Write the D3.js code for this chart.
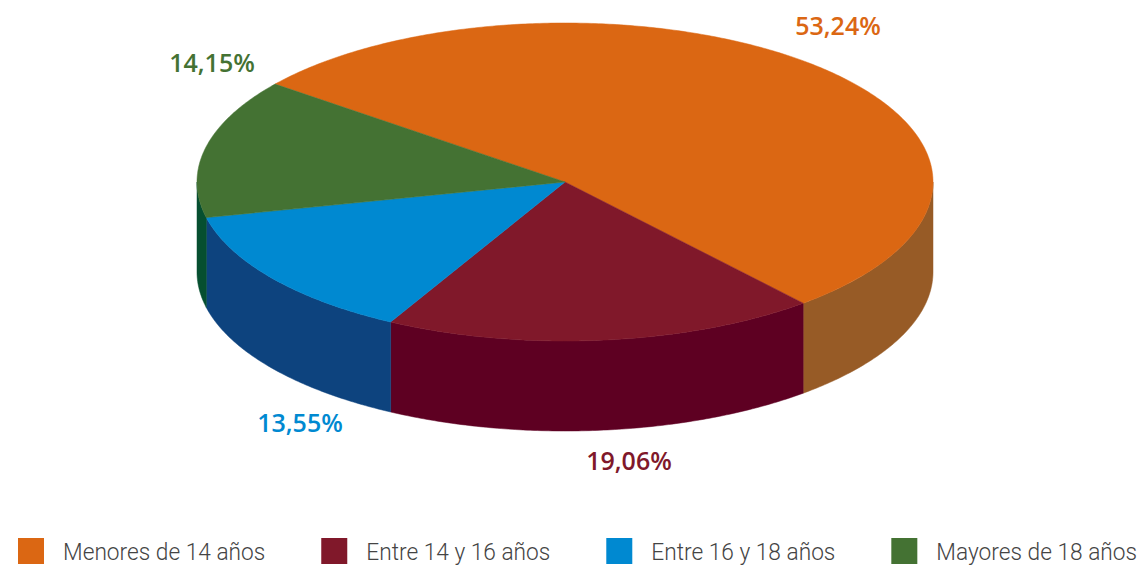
<!DOCTYPE html>
<html>
<head>
<meta charset="utf-8">
<script src="https://cdn.jsdelivr.net/npm/d3@7"></script>
<style>
  html, body { margin: 0; padding: 0; background: #fff; }
  svg { display: block; }
</style>
</head>
<body>
<svg id="chart" width="1141" height="566"></svg>
<script>
// ---- data ----
const categories = ["Menores de 14 años", "Entre 14 y 16 años", "Entre 16 y 18 años", "Mayores de 18 años"];
const values = [53.24, 19.06, 13.55, 14.15];
const valueLabels = ["53,24%", "19,06%", "13,55%", "14,15%"];

// ---- styles ----
const topColors = ["#DB6713", "#80182A", "#0089D1", "#447233"];
const sideColors = ["#975B26", "#5E0022", "#0D437E", "#064F30"];

// ---- layout ----
const W = 1141, H = 566;
const cx = 565, cy = 182, rx = 368, ry = 159, depth = 90;
const startDeg = -52;
const labelPos = [[838, 35], [629, 470], [300, 432], [212, 72]];

const svg = d3.select("#chart");
const topColor = d3.scaleOrdinal().domain(categories).range(topColors);
const sideColor = d3.scaleOrdinal().domain(categories).range(sideColors);

const start = startDeg * Math.PI / 180;
const pie = d3.pie().sort(null).value(d => d.value)
  .startAngle(start).endAngle(start + 2 * Math.PI);
const arcs = pie(categories.map((c, i) => ({ cat: c, value: values[i], label: valueLabels[i] })));

function pt(t, dy) { return [cx + rx * Math.sin(t), cy - ry * Math.cos(t) + (dy || 0)]; }
function arcPts(a0, a1, dy) {
  const n = Math.max(2, Math.ceil(Math.abs(a1 - a0) / 0.01));
  return d3.range(n + 1).map(k => pt(a0 + (a1 - a0) * k / n, dy));
}
const line = d3.line();

// side walls (front half)
const walls = svg.append("g");
arcs.forEach(a => {
  for (let s = -1; s <= 1; s++) {
    const lo = Math.max(a.startAngle, Math.PI / 2 + s * 2 * Math.PI);
    const hi = Math.min(a.endAngle, 3 * Math.PI / 2 + s * 2 * Math.PI);
    if (hi > lo) {
      const topEdge = arcPts(lo, hi, 0);
      const botEdge = arcPts(hi, lo, depth);
      walls.append("path")
        .attr("d", line(topEdge.concat(botEdge)) + "Z")
        .attr("fill", sideColor(a.data.cat))
        .attr("stroke", sideColor(a.data.cat))
        .attr("stroke-width", 0.5);
    }
  }
});

// top faces
const tops = svg.append("g");
arcs.forEach(a => {
  const pts = [[cx, cy]].concat(arcPts(a.startAngle, a.endAngle, 0));
  tops.append("path")
    .attr("d", line(pts) + "Z")
    .attr("fill", topColor(a.data.cat))
    .attr("stroke", topColor(a.data.cat))
    .attr("stroke-width", 0.5)
    .attr("stroke-linejoin", "round");
});

// value labels
svg.append("g").selectAll("text").data(arcs).join("text")
  .attr("x", (d, i) => labelPos[i][0])
  .attr("y", (d, i) => labelPos[i][1])
  .attr("text-anchor", "middle")
  .attr("font-family", "'Open Sans', sans-serif")
  .attr("font-weight", 600)
  .attr("font-size", 25)
  .attr("fill", d => topColor(d.data.cat))
  .text(d => d.data.label);

// legend
const legend = svg.append("g");
const sq = 26, gapText = 19, gapItem = 56, legY = 538, legLeft = 18, legRight = 1137;
const items = legend.selectAll("g").data(categories).join("g");
items.append("rect").attr("width", sq).attr("height", sq).attr("y", legY)
  .attr("fill", d => topColor(d));
items.append("text")
  .attr("x", sq + gapText)
  .attr("y", legY + 22)
  .attr("font-family", "Roboto, sans-serif")
  .attr("font-weight", 300)
  .attr("font-size", 24)
  .attr("fill", "#444")
  .text(d => d);

function layoutLegend() {
  const widths = [];
  items.each(function () { widths.push(d3.select(this).select("text").node().getComputedTextLength()); });
  const textTotal = d3.sum(widths);
  const avail = legRight - legLeft - categories.length * (sq + gapText) - (categories.length - 1) * gapItem;
  const k = Math.min(1, avail / textTotal);
  items.select("text").attr("transform", `translate(${sq + gapText},0) scale(${k},1) translate(${-(sq + gapText)},0)`);
  let x = 0;
  const offs = [];
  widths.forEach(w => { offs.push(x); x += sq + gapText + w * k + gapItem; });
  const total = x - gapItem;
  const x0 = (legLeft + legRight) / 2 - total / 2;
  items.attr("transform", (d, i) => `translate(${x0 + offs[i]},0)`);
}
layoutLegend();
if (document.fonts && document.fonts.ready) document.fonts.ready.then(layoutLegend);
</script>
</body>
</html>
